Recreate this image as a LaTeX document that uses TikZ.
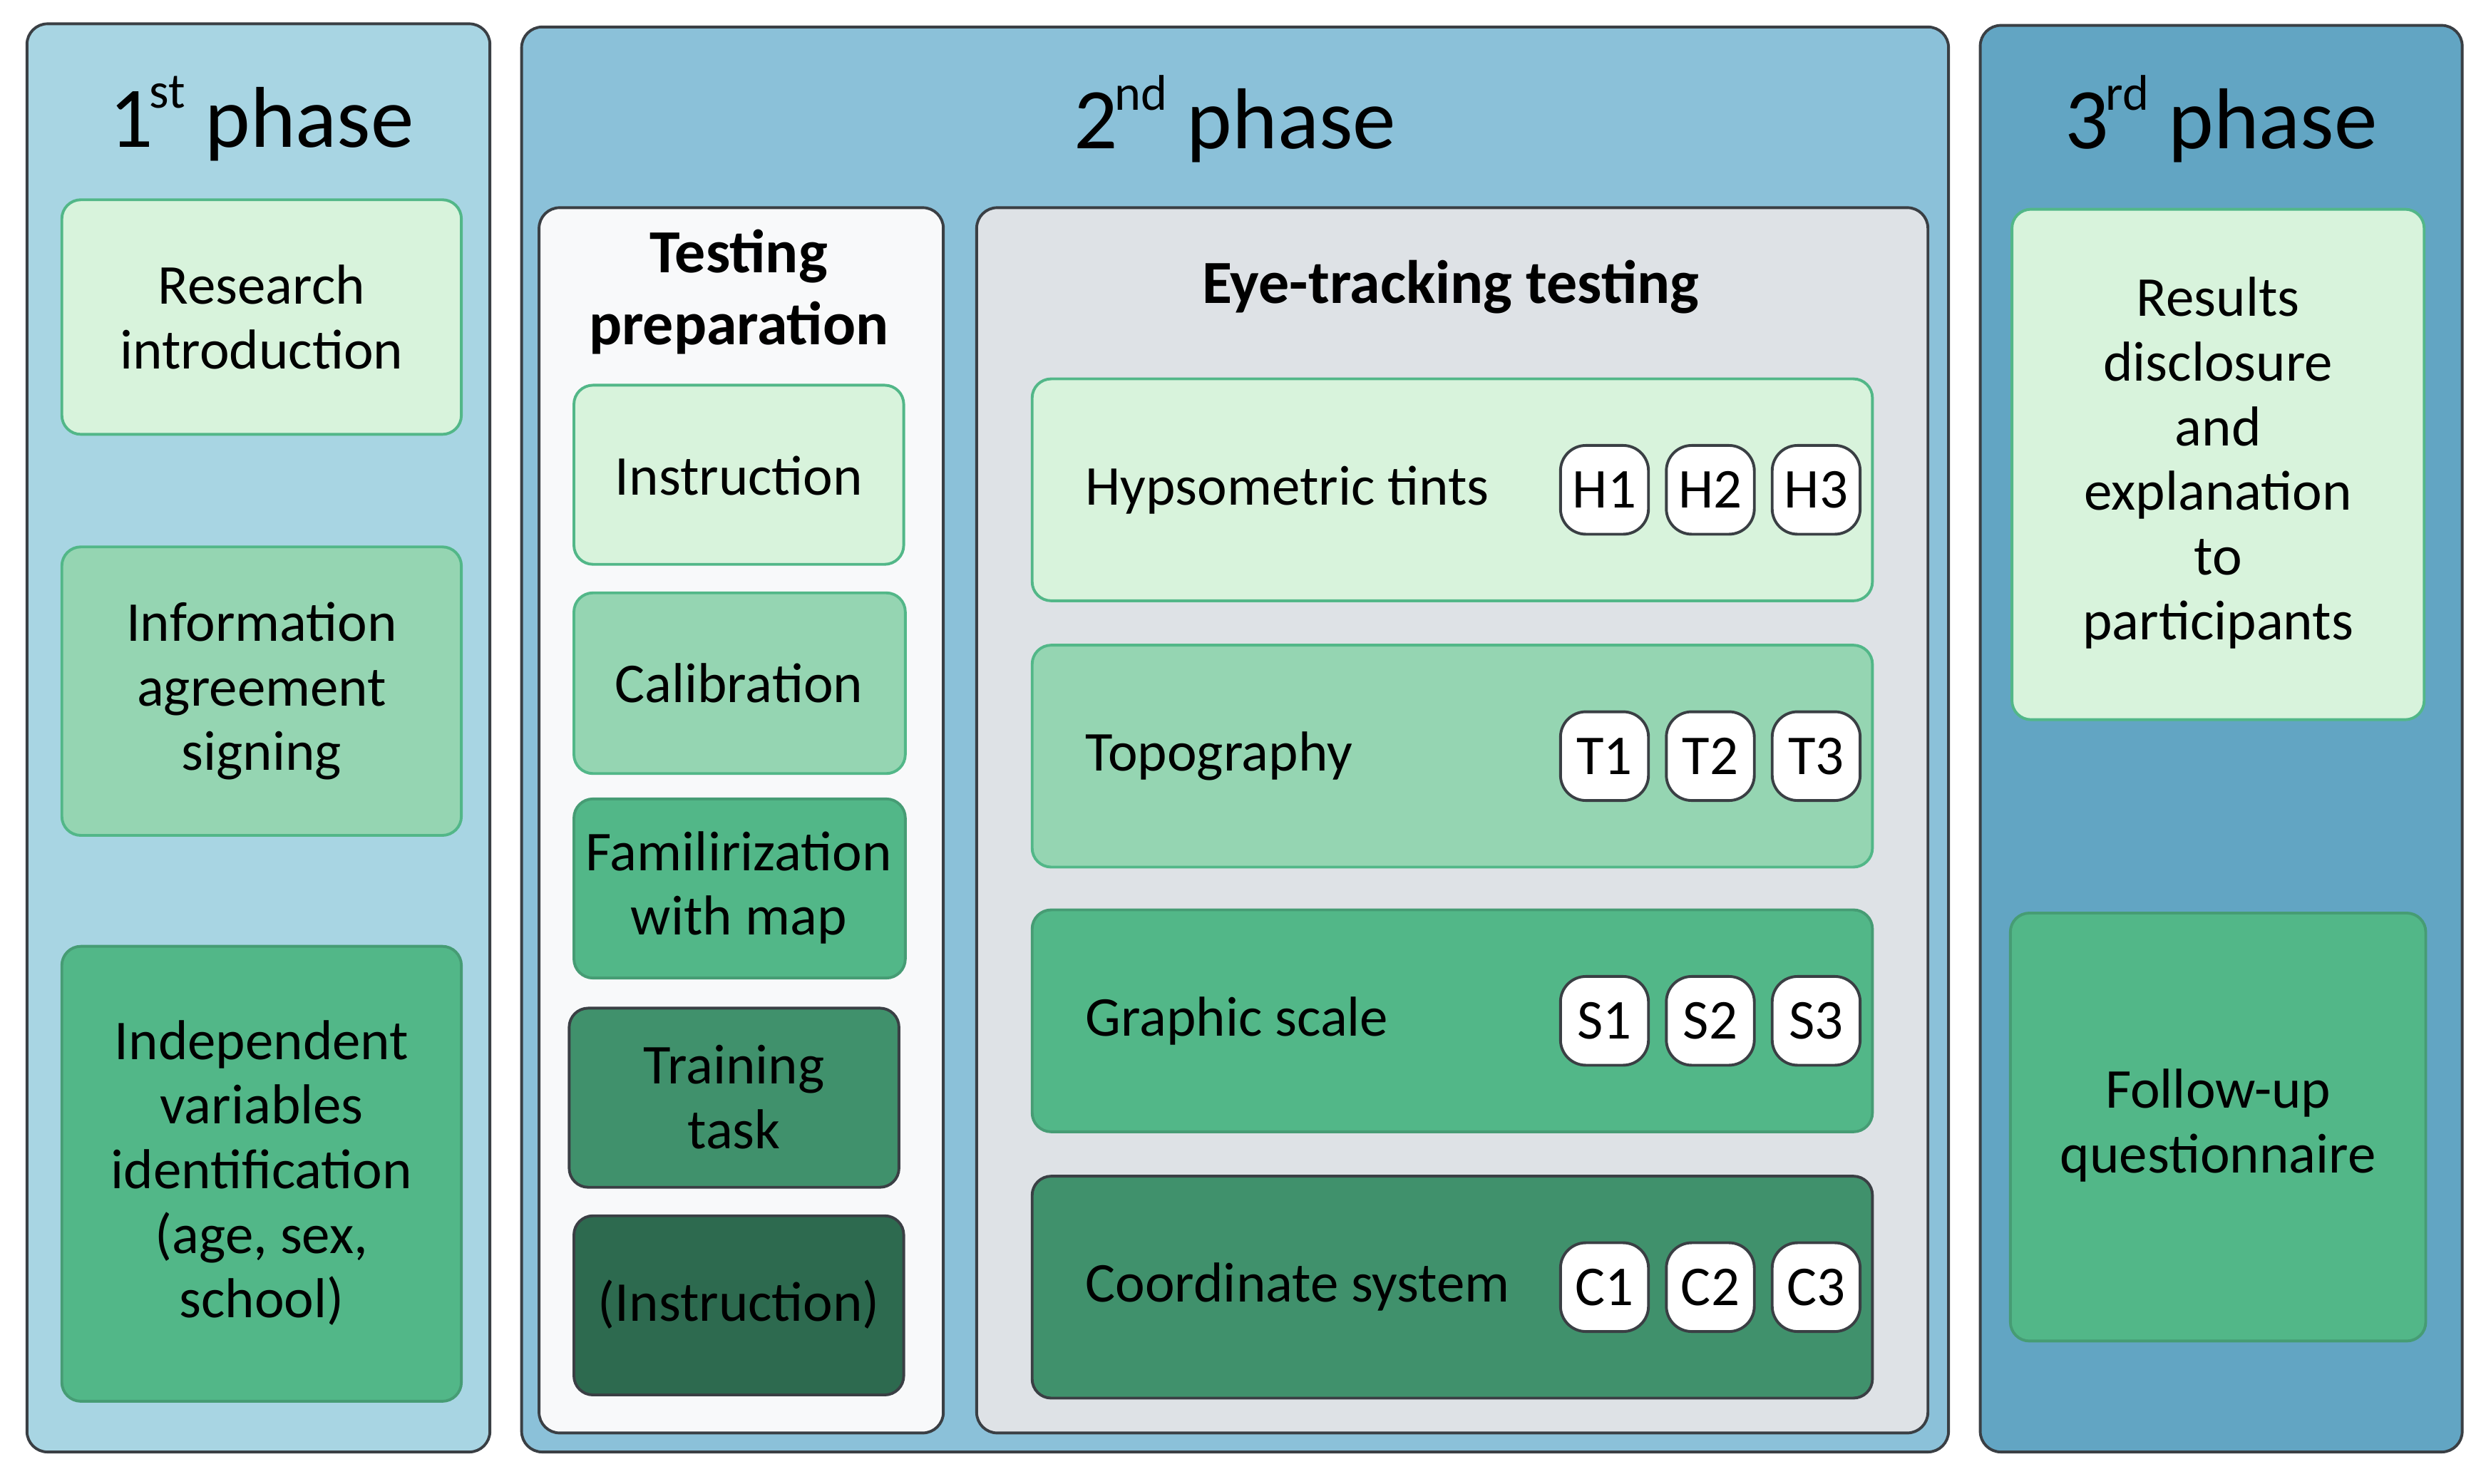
\documentclass[tikz,border=0pt]{standalone}
\usepackage{fontspec}
\setmainfont{Carlito}
\usetikzlibrary{positioning}

\definecolor{phaseA}{HTML}{A8D5E3}
\definecolor{phaseB}{HTML}{8BC1D9}
\definecolor{phaseC}{HTML}{62A5C3}
\definecolor{greenA}{HTML}{D8F3DC}
\definecolor{greenB}{HTML}{95D5B2}
\definecolor{greenC}{HTML}{52B788}
\definecolor{greenD}{HTML}{40916C}
\definecolor{greenE}{HTML}{2D6A4F}
\definecolor{prepfill}{HTML}{F8F9FA}
\definecolor{eyefill}{HTML}{DEE2E6}
\definecolor{edge}{HTML}{3A3F44}

\newcommand{\bodyfont}{\fontsize{10.1pt}{11.6pt}\selectfont}
\newcommand{\phasefont}{\fontsize{15.5pt}{18pt}\selectfont}
\newcommand{\headfont}{\fontsize{11pt}{12.9pt}\selectfont\bfseries}
\newcommand{\phsup}[1]{\kern-0.6pt\raisebox{0.95ex}{\fontsize{9pt}{9pt}\selectfont #1}}

\tikzset{
  phasebox/.style={draw=edge, line width=0.5pt, rounded corners=1.3mm},
  stepbox/.style={line width=0.5pt, rounded corners=1.2mm},
  boxtext/.style={align=center, font=\bodyfont, inner sep=0pt},
  pill/.style={draw=edge, fill=white, line width=0.5pt, rounded corners=1.6mm,
    minimum width=5.55mm, minimum height=5.6mm, inner sep=0pt, font=\bodyfont}
}

\begin{document}
\begin{tikzpicture}[x=0.1mm, y=-0.1mm]
  \useasboundingbox (0,0) rectangle (1568,936);

  % Phase boxes
  \draw[phasebox, fill=phaseA] (17,15) rectangle (309,916);
  \draw[phasebox, fill=phaseB] (329,17) rectangle (1229,916);
  \draw[phasebox, fill=phaseC] (1249,16) rectangle (1553,916);
  \node[font=\phasefont] (ph1) at (165,75) {1\phsup{st} phase};
  \node[font=\phasefont] (ph2) at (779,75) {2\phsup{nd} phase};
  \node[font=\phasefont] (ph3) at (1401,75) {3\phsup{rd} phase};

  % 1st phase
  \draw[stepbox, fill=greenA, draw=greenC] (39,126) rectangle (291,274);
  \node[boxtext] (intro) at (165,200) {Research\\introduction};
  \draw[stepbox, fill=greenB, draw=greenC] (39,345) rectangle (291,527);
  \node[boxtext] (agree) at (165,436) {Information\\agreement\\signing};
  \draw[stepbox, fill=greenC, draw=greenC!85!black] (39,597) rectangle (291,884);
  \node[boxtext] (indep) at (165,740) {Independent\\variables\\identification\\(age, sex,\\school)};

  % 2nd phase: testing preparation
  \draw[phasebox, fill=prepfill] (340,131) rectangle (595,904);
  \node[align=center, font=\headfont, inner sep=0pt] (prep) at (466,184) {Testing\\preparation};
  \draw[stepbox, fill=greenA, draw=greenC] (362,243) rectangle (570,356);
  \node[boxtext] (instr) at (466,300) {Instruction};
  \draw[stepbox, fill=greenB, draw=greenC] (362,374) rectangle (571,488);
  \node[boxtext] (calib) at (466,431) {Calibration};
  \draw[stepbox, fill=greenC, draw=greenC!85!black] (362,504) rectangle (571,617);
  \node[boxtext] (famil) at (466,560) {Familirization\\with map};
  \draw[stepbox, fill=greenD, draw=edge] (359,636) rectangle (567,749);
  \node[boxtext] (train) at (463,692) {Training\\task};
  \draw[stepbox, fill=greenE, draw=edge] (362,767) rectangle (570,880);
  \node[boxtext] (instr2) at (466,823) {(Instruction)};

  % 2nd phase: eye-tracking testing
  \draw[phasebox, fill=eyefill] (616,131) rectangle (1216,904);
  \node[font=\headfont, inner sep=0pt] (eye) at (915,181) {Eye-tracking testing};
  \foreach \row/\y/\txt/\fc/\dc/\p in {hyp/309/Hypsometric tints/greenA/greenC/H,
      topo/477/Topography/greenB/greenC/T,
      scale/644/Graphic scale/greenC/greenC!85!black/S,
      coord/812/Coordinate system/greenD/edge/C}{
    \draw[stepbox, fill=\fc, draw=\dc] (651,\y-70) rectangle (1181,\y+70);
    \node[boxtext, anchor=west] (\row) at (684,\y) {\txt};
    \node[pill] (\p1) at (1012,\y) {\p1};
    \node[pill, right=0.95mm of \p1] (\p2) {\p2};
    \node[pill, right=0.95mm of \p2] (\p3) {\p3};
  }

  % 3rd phase
  \draw[stepbox, fill=greenA, draw=greenC] (1269,132) rectangle (1529,454);
  \node[boxtext] (results) at (1399,292) {Results\\disclosure\\and\\explanation\\to\\participants};
  \draw[stepbox, fill=greenC, draw=greenC!85!black] (1268,576) rectangle (1530,846);
  \node[boxtext] (follow) at (1399,710) {Follow-up\\questionnaire};
\end{tikzpicture}
\end{document}
